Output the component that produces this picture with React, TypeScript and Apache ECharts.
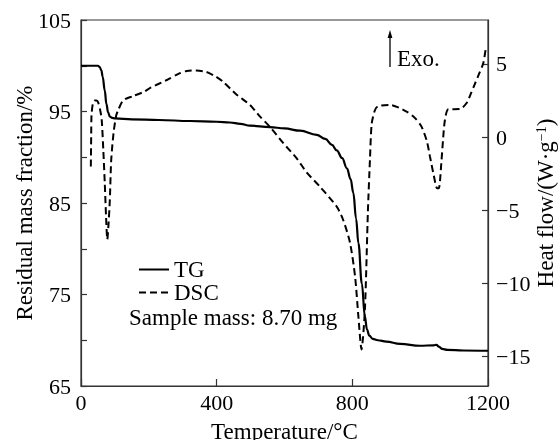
import React, { useEffect, useRef } from 'react';
import * as echarts from 'echarts';

const FONT = '"Liberation Serif", "Times New Roman", serif';

// TG: [temperature °C, residual mass %]
const tgData: [number, number][] = [
  [0, 100], [50, 100], [55, 99.85], [60, 99.5], [64, 98.8], [70, 97.3], [75, 95.8],
  [80, 94.9], [85, 94.45], [92, 94.3], [100, 94.25], [150, 94.15], [230, 94.07],
  [321, 93.96], [400, 93.88], [439, 93.8], [470, 93.65], [498, 93.45], [557, 93.3],
  [600, 93.15], [646, 92.9], [695, 92.45], [720, 92.0], [740, 91.35], [754, 90.75],
  [770, 89.9], [784, 88.8], [795, 87.6], [803, 86.1], [811, 83.3], [818, 80.6],
  [828, 76.2], [837, 72.6], [843, 71.2], [850, 70.5], [860, 70.15], [875, 70.0],
  [900, 69.85], [941, 69.6], [1000, 69.4], [1040, 69.45], [1048, 69.5], [1055, 69.3],
  [1065, 69.05], [1080, 68.95], [1127, 68.88], [1200, 68.85],
];

// DSC: [temperature °C, heat flow W/g]
const dscData: [number, number][] = [
  [29, -2.0], [30, 0.0], [31, 1.5], [35, 2.3], [40, 2.5], [45, 2.5], [50, 2.4],
  [56, 1.9], [61, 1.2], [66, -1.0], [70, -3.1], [74, -5.5], [77.5, -7.0], [81, -6.0],
  [85, -4.3], [89, -1.6], [96, 0.3], [104, 1.5], [109, 1.8], [124, 2.5], [153, 2.8],
  [186, 3.1], [203, 3.35], [253, 3.9], [290, 4.35], [312, 4.52], [340, 4.55],
  [370, 4.45], [400, 4.1], [419, 3.78], [459, 2.9], [498, 2.2], [528, 1.4], [557, 0.7],
  [596, -0.4], [636, -1.45], [665, -2.4], [705, -3.4], [754, -4.75], [773, -5.66],
  [793, -7.2], [808, -9.5], [818, -12.3], [827, -14.5], [837, -11.8], [846, -5.0],
  [852, -1.5], [857, 0.9], [866, 1.8], [875, 2.1], [911, 2.2], [960, 1.74], [985, 1.3],
  [1004, 0.72], [1020, -0.3], [1029, -1.34], [1040, -2.6], [1050, -3.5], [1055, -3.5],
  [1063, -1.56], [1068, 0.0], [1073, 1.17], [1083, 1.9], [1117, 1.92], [1137, 2.33],
  [1150, 3.0], [1162, 3.67], [1175, 4.4], [1186, 5.04], [1193, 6.0],
];

const rightTicks = [-15, -10, -5, 0, 5];
const leftLabelValues = [65, 75, 85, 95, 105];

const AXIS_COLOR = '#333';

export default function App() {
  const ref = useRef<HTMLDivElement>(null);
  useEffect(() => {
    const chart = echarts.init(ref.current!, null, { renderer: 'svg' });
    const axisLine = { show: true, onZero: false, lineStyle: { color: AXIS_COLOR, width: 1.2 } };
    const tickStyle = { color: AXIS_COLOR, width: 1.2 };
    chart.setOption({
      animation: false,
      textStyle: { fontFamily: FONT, color: '#000' },
      grid: {
        left: 81, right: 70, top: 20, bottom: 54,
        outerBoundsMode: 'none', containLabel: false,
        show: true, borderColor: AXIS_COLOR, borderWidth: 1.2,
      },
      legend: {
        data: ['TG', 'DSC'],
        orient: 'vertical',
        left: 133,
        top: 253,
        itemWidth: 30,
        itemHeight: 14,
        itemGap: 0,
        itemStyle: { color: 'transparent', borderWidth: 0, opacity: 0 },
        textStyle: { fontFamily: FONT, fontSize: 23, color: '#000', lineHeight: 23 },
      },
      xAxis: {
        type: 'value', min: 0, max: 1200, interval: 400,
        name: 'Temperature/°C', nameLocation: 'middle', nameGap: 34, nameMoveOverlap: false,
        nameTextStyle: { fontFamily: FONT, fontSize: 23, color: '#000' },
        axisLine,
        axisTick: { show: true, inside: true, length: 7, lineStyle: tickStyle },
        axisLabel: { fontFamily: FONT, fontSize: 22, color: '#000', margin: 5, formatter: (v: number) => String(v) },
        splitLine: { show: false },
      },
      yAxis: [
        {
          type: 'value', min: 65, max: 105, interval: 5,
          name: 'Residual mass fraction/%', nameLocation: 'middle', nameGap: 45, nameMoveOverlap: false,
          nameTextStyle: { fontFamily: FONT, fontSize: 23, color: '#000' },
          axisLine,
          axisTick: { show: true, inside: true, length: 6, lineStyle: tickStyle },
          axisLabel: {
            fontFamily: FONT, fontSize: 22, color: '#000', margin: 10,
            formatter: (v: number) => (leftLabelValues.indexOf(v) >= 0 ? String(v) : ''),
          },
          splitLine: { show: false },
        },
        {
          type: 'value', position: 'right', min: -17, max: 8,
          name: '{a|Heat flow/(W·g}{s|−1}{a|)}', nameLocation: 'middle', nameGap: 46, nameMoveOverlap: false,
          nameTextStyle: {
            fontFamily: FONT, fontSize: 23, color: '#000',
            rich: {
              a: { fontFamily: FONT, fontSize: 23, color: '#000' },
              s: { fontFamily: FONT, fontSize: 14, color: '#000', verticalAlign: 'top', padding: [0, 0, 8, 0] },
            },
          },
          axisLine,
          axisTick: { show: true, inside: true, length: 6, lineStyle: tickStyle, customValues: rightTicks },
          axisLabel: {
            fontFamily: FONT, fontSize: 22, color: '#000', margin: 8,
            customValues: rightTicks,
            formatter: (v: number) => (v < 0 ? '−' + Math.abs(v) : String(v)),
          },
          splitLine: { show: false },
        },
      ],
      graphic: [
        { type: 'line', shape: { x1: 390, y1: 67, x2: 390, y2: 36 }, style: { stroke: '#000', lineWidth: 1.3 } },
        { type: 'polygon', shape: { points: [[390, 30], [387.6, 38], [392.4, 38]] }, style: { fill: '#000' } },
        { type: 'text', x: 397, y: 58, style: { text: 'Exo.', fontFamily: FONT, fontSize: 23, fill: '#000', verticalAlign: 'middle' } },
        { type: 'text', x: 129, y: 317, style: { text: 'Sample mass: 8.70 mg', fontFamily: FONT, fontSize: 23, fill: '#000', verticalAlign: 'middle' } },
      ],
      series: [
        {
          name: 'TG', type: 'line', yAxisIndex: 0, data: tgData, showSymbol: false, symbol: 'none',
          smooth: 0.4, smoothMonotone: 'x', lineStyle: { color: '#000', width: 2.2, type: 'solid' }, itemStyle: { color: '#000' },
        },
        {
          name: 'DSC', type: 'line', yAxisIndex: 1, data: dscData, showSymbol: false, symbol: 'none',
          smooth: 0.25, lineStyle: { color: '#000', width: 2, type: [7, 4] }, itemStyle: { color: '#000' },
        },
      ],
    });
    return () => chart.dispose();
  }, []);
  return <div ref={ref} style={{ position: 'fixed', left: 0, top: 0, width: 558, height: 440 }} />;
}
